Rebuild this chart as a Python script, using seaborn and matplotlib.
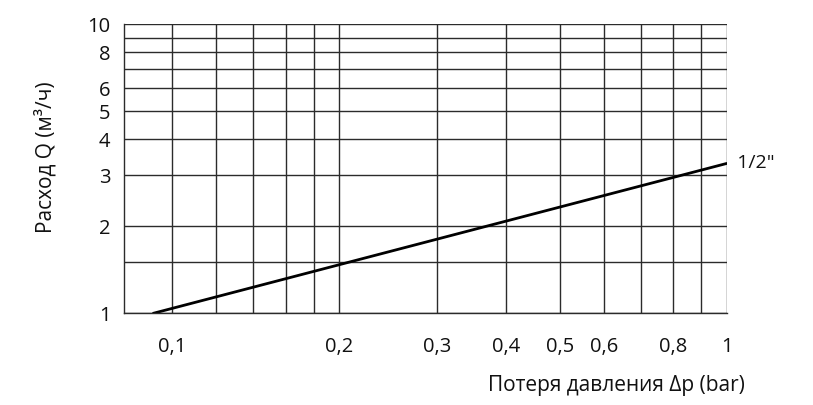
import matplotlib
matplotlib.use("Agg")
import matplotlib.pyplot as plt
import seaborn as sns
import numpy as np
import pandas as pd

# Data (log-log, 1/2" valve)
dp_values = [0.0924, 1.0]
q_values = [1.0, 3.3]
series_label = '1/2"'

x_grid = [0.1, 0.12, 0.14, 0.16, 0.18, 0.2, 0.3, 0.4, 0.5, 0.6, 0.7, 0.8, 0.9, 1.0]
x_tick_vals = [0.1, 0.2, 0.3, 0.4, 0.5, 0.6, 0.8, 1.0]
x_tick_labels = ["0,1", "0,2", "0,3", "0,4", "0,5", "0,6", "0,8", "1"]
y_grid = [1, 1.5, 2, 3, 4, 5, 6, 7, 8, 9, 10]
y_tick_vals = [1, 2, 3, 4, 5, 6, 8, 10]
y_tick_labels = ["1", "2", "3", "4", "5", "6", "8", "10"]

x_label = "Потеря давления Δp (bar)"
y_label = "Расход Q (м³/ч)"

sns.set_style("white")
plt.rcParams['font.family'] = ['Open Sans', 'DejaVu Sans']

fig = plt.figure(figsize=(8.13, 4.05), dpi=100)
ax = fig.add_axes([124.3/813, 1-313.3/405, (726.7-124.3)/813, (313.3-24.3)/405])

df = pd.DataFrame({"dp": dp_values, "q": q_values})
sns.lineplot(data=df, x="dp", y="q", ax=ax, color="black", linewidth=2.0)

ax.set_xscale("log")
ax.set_yscale("log")
ax.set_xlim(0.0819, 1.0)
ax.set_ylim(1, 10)

grid_color = "#2b2b2b"
for gx in x_grid:
    ax.axvline(gx, color=grid_color, linewidth=1.0, zorder=1)
for gy in y_grid:
    ax.axhline(gy, color=grid_color, linewidth=1.0, zorder=1)

ax.xaxis.set_major_locator(matplotlib.ticker.FixedLocator(x_grid))
ax.xaxis.set_minor_locator(matplotlib.ticker.NullLocator())
ax.xaxis.set_major_formatter(matplotlib.ticker.FixedFormatter(
    [x_tick_labels[x_tick_vals.index(v)] if v in x_tick_vals else "" for v in x_grid]))
ax.yaxis.set_major_locator(matplotlib.ticker.FixedLocator(y_grid))
ax.yaxis.set_minor_locator(matplotlib.ticker.NullLocator())
ax.yaxis.set_major_formatter(matplotlib.ticker.FixedFormatter(
    [y_tick_labels[y_tick_vals.index(v)] if v in y_tick_vals else "" for v in y_grid]))

ax.tick_params(axis="x", which="major", direction="out", length=4, width=1,
               color=grid_color, pad=13, labelsize=14.5, labelcolor="#111111")
ax.tick_params(axis="y", which="major", direction="out", length=4, width=1,
               color=grid_color, pad=6, labelsize=14.5, labelcolor="#111111")

for side in ["top", "right"]:
    ax.spines[side].set_visible(False)
for side in ["left", "bottom"]:
    ax.spines[side].set_color(grid_color)
    ax.spines[side].set_linewidth(1.0)

ax.set_xlabel("")
ax.set_ylabel("")

fig.text(745/813, 1-385/405, x_label, ha="right", va="center", fontsize=15, color="#111111")
fig.text(45/813, 1-157/405, y_label, ha="center", va="center", rotation=90, fontsize=15, color="#111111")
ax.text(1.0, 3.3, "  " + series_label, ha="left", va="center", fontsize=14, color="#111111",
        transform=ax.transData, clip_on=False)

fig.savefig("out.png", dpi=100)
